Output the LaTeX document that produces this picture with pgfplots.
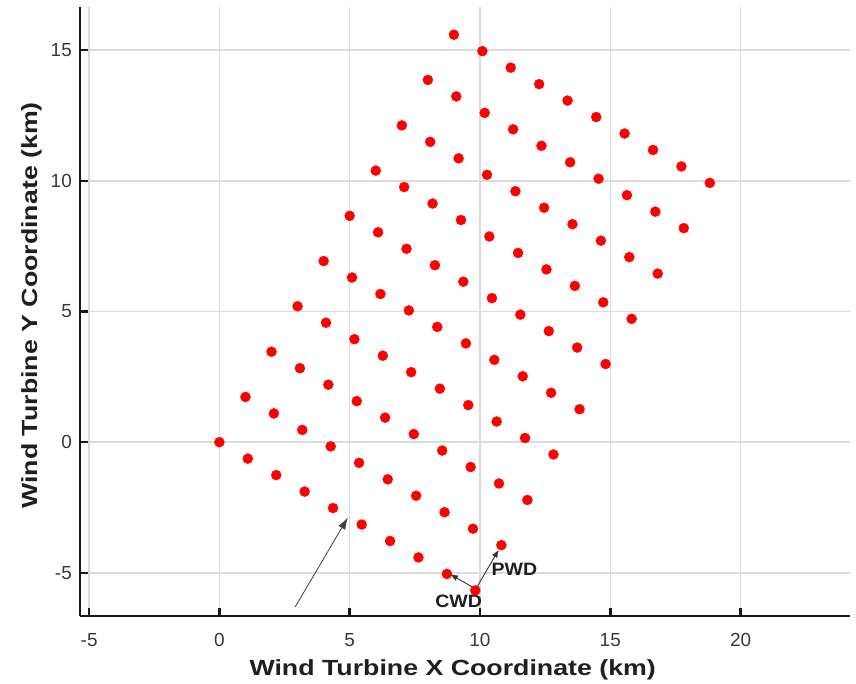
\documentclass[border=0pt]{standalone}
\usepackage{fontspec}
\setmainfont{Liberation Sans}
\newfontfamily\lblfont[FakeStretch=1.22]{Liberation Sans}
\newfontfamily\annfont[FakeStretch=1.09]{Liberation Sans}
\usepackage{pgfplots}
\pgfplotsset{compat=1.18}
\usetikzlibrary{arrows.meta}

\begin{document}
\begin{tikzpicture}
\begin{axis}[name=ax, scale only axis, width=770bp, height=609bp,
  xmin=-5.35, xmax=24.2, ymin=-6.65, ymax=16.65,
  axis x line*=bottom, axis y line*=left,
  axis line style={line width=2.5bp, black!90, -},
  xtick={-5,0,5,10,15,20}, xticklabels={-5,0,5,10,15,20},
  ytick={-5,0,5,10,15}, yticklabels={-5,0,5,10,15},
  tick align=inside, major tick length=8bp,
  tick style={line width=2.5bp, black!90},
  grid=major, grid style={line width=1.5bp, black!14},
  ticklabel style={font=\fontsize{19}{19}\selectfont, inner sep=0pt, text=black!78},
  xticklabel style={anchor=north, yshift=-17bp},
  yticklabel style={anchor=east, xshift=-8bp},
  xlabel={Wind Turbine X Coordinate (km)},
  ylabel={Wind Turbine Y Coordinate (km)},
  label style={font=\lblfont\bfseries\fontsize{22}{22}\selectfont, text=black!88},
  xlabel style={at={(axis description cs:0.484,-0.0969)}, anchor=base},
  ylabel style={at={(axis description cs:-0.0558,0.51)}, anchor=base},
  clip=false]
\addplot[only marks, mark=*, mark size=5bp, mark options={fill=red, draw=red}] coordinates {
(0,0) (1.09,-0.63) (2.18,-1.26) (3.27,-1.89) (4.36,-2.52) (5.46,-3.15) (6.55,-3.78) (7.64,-4.41) (8.73,-5.04) (9.82,-5.67)
(1,1.73) (2.09,1.10) (3.18,0.47) (4.27,-0.16) (5.36,-0.79) (6.46,-1.42) (7.55,-2.05) (8.64,-2.68) (9.73,-3.31) (10.82,-3.94)
(2,3.46) (3.09,2.83) (4.18,2.20) (5.27,1.57) (6.36,0.94) (7.46,0.31) (8.55,-0.32) (9.64,-0.95) (10.73,-1.58) (11.82,-2.21)
(3,5.20) (4.09,4.57) (5.18,3.94) (6.27,3.31) (7.36,2.68) (8.46,2.05) (9.55,1.42) (10.64,0.79) (11.73,0.16) (12.82,-0.47)
(4,6.93) (5.09,6.30) (6.18,5.67) (7.27,5.04) (8.36,4.41) (9.46,3.78) (10.55,3.15) (11.64,2.52) (12.73,1.89) (13.82,1.26)
(5,8.66) (6.09,8.03) (7.18,7.40) (8.27,6.77) (9.36,6.14) (10.46,5.51) (11.55,4.88) (12.64,4.25) (13.73,3.62) (14.82,2.99)
(6,10.39) (7.09,9.76) (8.18,9.13) (9.27,8.50) (10.36,7.87) (11.46,7.24) (12.55,6.61) (13.64,5.98) (14.73,5.35) (15.82,4.72)
(7,12.12) (8.09,11.49) (9.18,10.86) (10.27,10.23) (11.36,9.60) (12.46,8.97) (13.55,8.34) (14.64,7.71) (15.73,7.08) (16.82,6.45)
(8,13.86) (9.09,13.23) (10.18,12.60) (11.27,11.97) (12.36,11.34) (13.46,10.71) (14.55,10.08) (15.64,9.45) (16.73,8.82) (17.82,8.19)
(9,15.59) (10.09,14.96) (11.18,14.33) (12.27,13.70) (13.36,13.07) (14.46,12.44) (15.55,11.81) (16.64,11.18) (17.73,10.55) (18.82,9.92)
};
\draw[line width=0.8bp, black!75, -{Latex[length=12bp,width=8bp]}] (axis cs:2.91,-6.30) -- (axis cs:4.93,-2.88);
\draw[line width=0.9bp, black!80, -{Latex[length=8bp,width=6bp]}] (axis cs:9.85,-5.62) -- (axis cs:8.85,-5.05);
\draw[line width=0.9bp, black!80, -{Latex[length=8bp,width=6bp]}] (axis cs:9.88,-5.55) -- (axis cs:10.72,-4.11);
\node[font=\annfont\bfseries\fontsize{18}{18}\selectfont, text=black!88] at (axis cs:11.32,-4.88) {PWD};
\node[font=\annfont\bfseries\fontsize{18}{18}\selectfont, text=black!88] at (axis cs:9.18,-6.08) {CWD};
\end{axis}
\pgfresetboundingbox
\useasboundingbox ([shift={(-80bp,-68bp)}]ax.south west) rectangle ([shift={(6bp,7bp)}]ax.north east);
\end{tikzpicture}
\end{document}
